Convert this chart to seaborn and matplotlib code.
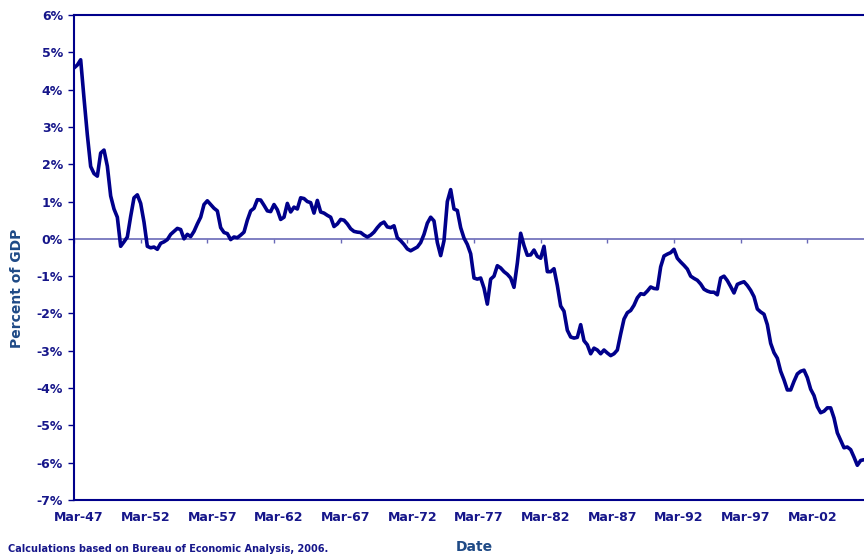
import matplotlib
matplotlib.use("Agg")
import matplotlib.pyplot as plt
import matplotlib.transforms as mtransforms
from matplotlib.ticker import FuncFormatter
import numpy as np
import pandas as pd
import seaborn as sns

# Current account balance, percent of GDP, quarterly from Mar-47
balance_pct = [
    4.58, 4.66, 4.80, 3.77, 2.79, 1.94, 1.75, 1.68, 2.30, 2.38,
    1.95, 1.15, 0.80, 0.58, -0.20, -0.08, 0.05, 0.60, 1.10, 1.18,
    0.95, 0.45, -0.20, -0.24, -0.22, -0.28, -0.12, -0.08, -0.02, 0.12,
    0.20, 0.28, 0.25, 0.00, 0.12, 0.06, 0.20, 0.40, 0.58, 0.92,
    1.02, 0.92, 0.82, 0.75, 0.30, 0.17, 0.14, -0.02, 0.05, 0.03,
    0.10, 0.18, 0.50, 0.75, 0.82, 1.05, 1.04, 0.90, 0.75, 0.73,
    0.92, 0.78, 0.52, 0.58, 0.95, 0.72, 0.85, 0.80, 1.10, 1.08,
    1.00, 0.97, 0.69, 1.03, 0.72, 0.69, 0.63, 0.58, 0.33, 0.40,
    0.52, 0.50, 0.40, 0.27, 0.20, 0.18, 0.17, 0.10, 0.05, 0.10,
    0.18, 0.30, 0.40, 0.45, 0.32, 0.30, 0.35, 0.03, -0.05, -0.15,
    -0.27, -0.32, -0.27, -0.22, -0.10, 0.12, 0.42, 0.58, 0.48, -0.10,
    -0.45, -0.05, 1.00, 1.32, 0.80, 0.76, 0.30, 0.02, -0.15, -0.40,
    -1.05, -1.08, -1.05, -1.32, -1.75, -1.08, -1.00, -0.72, -0.78, -0.88,
    -0.95, -1.05, -1.30, -0.65, 0.15, -0.18, -0.44, -0.43, -0.30, -0.47,
    -0.52, -0.20, -0.88, -0.88, -0.80, -1.25, -1.80, -1.94, -2.45, -2.63,
    -2.66, -2.64, -2.30, -2.73, -2.84, -3.08, -2.93, -2.98, -3.08, -2.98,
    -3.06, -3.13, -3.08, -2.98, -2.55, -2.15, -1.98, -1.92, -1.78, -1.58,
    -1.47, -1.49, -1.40, -1.29, -1.33, -1.34, -0.75, -0.46, -0.41, -0.37,
    -0.28, -0.52, -0.62, -0.71, -0.81, -1.00, -1.06, -1.11, -1.21, -1.35,
    -1.40, -1.43, -1.43, -1.50, -1.05, -1.00, -1.12, -1.28, -1.45, -1.22,
    -1.18, -1.15, -1.25, -1.38, -1.55, -1.88, -1.96, -2.02, -2.30, -2.80,
    -3.05, -3.20, -3.55, -3.78, -4.05, -4.05, -3.82, -3.62, -3.55, -3.52,
    -3.72, -4.03, -4.20, -4.50, -4.66, -4.62, -4.53, -4.53, -4.80, -5.20,
    -5.40, -5.60, -5.58, -5.65, -5.85, -6.07, -5.94, -5.92,
]
tick_labels = ["Mar-47", "Mar-52", "Mar-57", "Mar-62", "Mar-67", "Mar-72",
               "Mar-77", "Mar-82", "Mar-87", "Mar-92", "Mar-97", "Mar-02"]
y_ticks = list(range(-7, 7))

NAVY = "#00008b"
TEXT = "#16168a"
LABEL = "#1f4a86"
ZERO = "#6a6ab8"

df = pd.DataFrame({"quarter": np.arange(len(balance_pct)), "pct": balance_pct})

sns.set_style("white")
plt.rcParams["font.family"] = ["DejaVu Sans"]
plt.rcParams["font.weight"] = "bold"
plt.rcParams["axes.labelweight"] = "bold"

fig = plt.figure(figsize=(8.64, 5.54), dpi=100)
ax = fig.add_axes([74 / 864, 1 - 500 / 554, 1 - 74 / 864, (500 - 15) / 554])

sns.lineplot(data=df, x="quarter", y="pct", ax=ax, color=NAVY, linewidth=2.6)

ax.set_xlim(0, len(balance_pct) - 1)
ax.set_ylim(-7, 6)

# zero line acting as the category axis, with its tick marks
ax.axhline(0, color=ZERO, linewidth=1.2, zorder=1)
sec = ax.secondary_xaxis(7 / 13)
sec.set_xticks(np.arange(0, len(balance_pct), 20))
sec.tick_params(axis="x", direction="out", length=3, width=1, color=ZERO,
                labelbottom=False, labeltop=False)
sec.spines["bottom"].set_visible(False)
sec.spines["top"].set_visible(False)
sec.xaxis.set_ticks_position("bottom")
sec.set_xticklabels([])

ax.set_xticks(np.arange(0, 20 * len(tick_labels), 20))
ax.set_xticklabels(tick_labels)
ax.tick_params(axis="x", length=0, pad=8, labelsize=9, labelcolor=TEXT)
offset = mtransforms.ScaledTranslation(5 / 100, 0, fig.dpi_scale_trans)
for lbl in ax.get_xticklabels():
    lbl.set_transform(lbl.get_transform() + offset)

ax.set_yticks(y_ticks)
ax.yaxis.set_major_formatter(FuncFormatter(lambda v, _: f"{int(v)}%"))
ax.tick_params(axis="y", direction="out", length=4, width=1, color=NAVY,
               left=True, labelsize=9, labelcolor=TEXT, pad=4)

for side in ["top", "bottom", "left"]:
    ax.spines[side].set_color(NAVY)
    ax.spines[side].set_linewidth(1.5)
ax.spines["right"].set_visible(False)

ax.set_xlabel("")
ax.set_ylabel("Percent of GDP", fontsize=10, color=LABEL)
ax.yaxis.set_label_coords(-0.063, (500 - 288) / 485)
fig.text(474 / 864, 1 - 547 / 554, "Date", ha="center", va="center",
         fontsize=10, color=LABEL, fontweight="bold")
fig.text(8 / 864, 1 - 549 / 554, "Calculations based on Bureau of Economic Analysis, 2006.",
         ha="left", va="center", fontsize=7, color=TEXT, fontweight="bold")

fig.savefig("out.png", dpi=100)
